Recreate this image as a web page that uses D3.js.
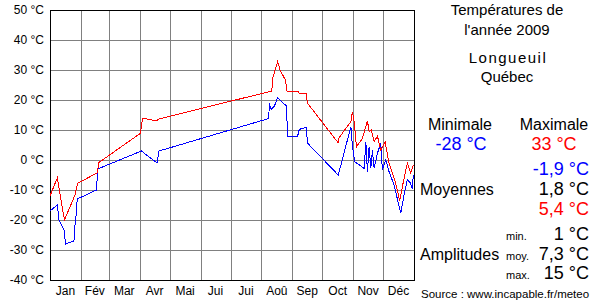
<!DOCTYPE html>
<html>
<head>
<meta charset="utf-8">
<script src="https://cdn.jsdelivr.net/npm/d3@7"></script>
<style>
  body { margin: 0; background: #fff; }
  svg { display: block; font-family: "Liberation Sans", Arial, sans-serif; }
</style>
</head>
<body>
<svg width="600" height="300"></svg>
<script>
const monthLabels = ["Jan", "Fév", "Mar", "Avr", "Mai", "Jui", "Jui", "Aoû", "Sep", "Oct", "Nov", "Déc"];
const monthStarts = [0, 31, 59, 90, 120, 151, 181, 212, 243, 273, 304, 334, 365];
const tempTicks = [50, 40, 30, 20, 10, 0, -10, -20, -30, -40];

// daily minimum (blue): [day of year, °C]
const minSeries = [
    [0, -17], [7.3, -15], [9, -20], [14, -23.3], [15.7, -28], [24, -27], [25, -22], [26, -19],
    [27.3, -13], [46.7, -10], [47.7, -3], [91.7, 3], [107.3, -1], [109.3, 3], [217, 13.6],
    [219.3, 13.9], [220, 18.9], [221.7, 16.8], [225, 18], [228.3, 20.8], [237, 18], [237.7, 12.8],
    [238.3, 8], [248.3, 8], [250, 10.2], [256.7, 10.9], [258.3, 5.6], [289, -5], [291.7, -1.7],
    [301.7, 11.1], [303.3, 4.4], [305.7, -0.6], [315, -2.8], [316.7, 6.1], [318.3, -3.9], [320, 4.4],
    [321.7, -2.8], [323.3, 3.3], [325, -2.8], [328.3, 2.2], [331.7, 5.6], [333.3, -3.3], [336.7, 0],
    [340, -3.9], [345, -8.3], [351.7, -17.8], [355, -11.7], [358.3, -6.5], [361, -7.5], [363.3, -9.5],
    [364.3, -5]
];

// daily maximum (red): [day of year, °C]
const maxSeries = [
    [0, -12], [7.3, -6], [14.5, -20], [25, -11.7], [27.7, -7.8], [47.7, -4.2], [48.7, -0.9],
    [90.7, 8.9], [92.7, 13.9], [106.7, 13.1], [109.3, 13.7], [222.5, 23], [223, 27], [228.3, 32.8],
    [230.7, 30], [236, 26.7], [237.7, 23], [248.3, 23], [250, 22.2], [256.7, 22.2], [258.3, 18.9],
    [288.8, 5.8], [290, 7.5], [301.7, 12.8], [303.3, 16.1], [305, 12.8], [307.3, 4.4], [313.3, 7.2],
    [318.3, 13.1], [320, 9.4], [322.3, 10], [325, 6.1], [328.3, 8], [331.7, 3.3], [336, 6.1],
    [340, -1.1], [346.7, -7.8], [350.7, -13.6], [354, -7.8], [358.3, -1.1], [361.7, -4.4], [364.3, -1.7]
];

const yearlyMin = "-28 °C";
const yearlyMax = "33 °C";
const averages = ["-1,9 °C", "1,8 °C", "5,4 °C"];
const amplitudeNames = ["min.", "moy.", "max."];
const amplitudes = ["1 °C", "7,3 °C", "15 °C"];

const svg = d3.select("svg");

const x = d3.scaleLinear().domain([0, 365]).range([50, 414]);
const y = d3.scaleLinear().domain([-40, 50]).range([280, 10]);

const grid = svg.append("g").attr("shape-rendering", "crispEdges");

grid.selectAll("line.h")
    .data(tempTicks)
    .enter().append("line")
    .attr("class", "h")
    .attr("x1", x(0)).attr("x2", x(365))
    .attr("y1", d => y(d) + 0.5).attr("y2", d => y(d) + 0.5)
    .attr("stroke", "#808080");

grid.selectAll("line.v")
    .data(monthStarts)
    .enter().append("line")
    .attr("class", "v")
    .attr("x1", d => Math.round(x(d)) + 0.5).attr("x2", d => Math.round(x(d)) + 0.5)
    .attr("y1", y(50)).attr("y2", y(-40))
    .attr("stroke", "#808080");

grid.append("rect")
    .attr("x", x(0) + 0.5).attr("y", y(50) + 0.5)
    .attr("width", x(365) - x(0)).attr("height", y(-40) - y(50))
    .attr("fill", "none")
    .attr("stroke", "#000");

// y axis labels
svg.append("g")
    .selectAll("text")
    .data(tempTicks)
    .enter().append("text")
    .attr("x", 44)
    .attr("y", d => y(d))
    .attr("dy", "0.36em")
    .attr("text-anchor", "end")
    .attr("font-size", 12)
    .text(d => `${d} °C`);

// month labels
svg.append("g")
    .selectAll("text")
    .data(monthLabels)
    .enter().append("text")
    .attr("x", (d, i) => x((monthStarts[i] + monthStarts[i + 1]) / 2))
    .attr("y", 295)
    .attr("text-anchor", "middle")
    .attr("font-size", 12)
    .text(d => d);

const line = d3.line()
    .x(d => x(d[0]))
    .y(d => y(d[1]));

svg.append("path")
    .datum(minSeries)
    .attr("d", line)
    .attr("fill", "none")
    .attr("stroke", "#0000ff")
    .attr("stroke-width", 1)
    .attr("shape-rendering", "crispEdges");

svg.append("path")
    .datum(maxSeries)
    .attr("d", line)
    .attr("fill", "none")
    .attr("stroke", "#ff0000")
    .attr("stroke-width", 1)
    .attr("shape-rendering", "crispEdges");

// right panel
const panel = svg.append("g");

const addText = (tx, ty, str, size, anchor, color, spacing) => {
    const t = panel.append("text")
        .attr("x", tx).attr("y", ty)
        .attr("font-size", size)
        .attr("text-anchor", anchor)
        .attr("fill", color)
        .text(str);
    if (spacing) t.attr("letter-spacing", spacing);
    return t;
};

addText(507, 15, "Températures de", 15, "middle", "#000");
addText(507, 35, "l'année 2009", 15, "middle", "#000");
addText(508, 63, "Longueuil", 15, "middle", "#000", 1.5);
addText(507, 82, "Québec", 15, "middle", "#000");

addText(460, 130, "Minimale", 16, "middle", "#000");
addText(554, 130, "Maximale", 16, "middle", "#000");
addText(461, 150, yearlyMin, 18, "middle", "#0000ff");
addText(554, 150, yearlyMax, 18, "middle", "#ff0000");

const averageColors = ["#0000ff", "#000", "#ff0000"];
averages.forEach((v, i) => addText(589, 175 + i * 20, v, 18, "end", averageColors[i]));
addText(420, 195, "Moyennes", 16, "start", "#000");

amplitudeNames.forEach((v, i) => addText(506, 240 + i * 19.5, v, 11, "start", "#000"));
amplitudes.forEach((v, i) => addText(589, 240 + i * 19.5, v, 18, "end", "#000"));
addText(420, 260, "Amplitudes", 16, "start", "#000");

addText(421, 298, "Source : www.incapable.fr/meteo", 11.5, "start", "#000");
</script>
</body>
</html>
